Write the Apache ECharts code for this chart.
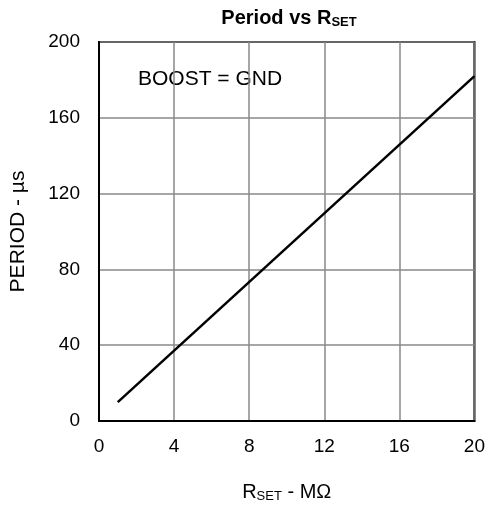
<!DOCTYPE html>
<html><head><meta charset="utf-8">
<script src="https://cdn.jsdelivr.net/npm/echarts@6/dist/echarts.min.js"></script>
<style>html,body{margin:0;padding:0;background:#fff}#c{width:488px;height:508px}</style>
</head><body><div id="c"></div>
<script>
const rsetValues = [1, 20];
const periodValues = [10, 182];
const xTicks = [0, 4, 8, 12, 16, 20];
const yTicks = [0, 40, 80, 120, 160, 200];
const annotation = 'BOOST = GND';

const FONT = '"Liberation Sans", Arial, sans-serif';
const chart = echarts.init(document.getElementById('c'));
chart.setOption({
  animation: false,
  backgroundColor: '#fff',
  title: {
    text: '{a|Period vs R}{s|SET}',
    left: 289, top: 8, textAlign: 'center', padding: 0,
    textStyle: { rich: {
      a: { fontFamily: FONT, fontWeight: 'bold', fontSize: 20, color: '#000' },
      s: { fontFamily: FONT, fontWeight: 'bold', fontSize: 13, color: '#000', verticalAlign: 'bottom', padding: [8, 0, 0, 0] }
    } }
  },
  grid: { left: 99, right: 13, top: 42, bottom: 87, show: true, borderColor: '#000', borderWidth: 2, backgroundColor: 'transparent' },
  xAxis: {
    type: 'value', min: xTicks[0], max: xTicks[xTicks.length - 1], interval: 4,
    name: '{a|R}{s|SET}{a| - MΩ}', nameLocation: 'middle', nameGap: 61,
    nameTextStyle: { rich: {
      a: { fontFamily: FONT, fontSize: 20, color: '#000' },
      s: { fontFamily: FONT, fontSize: 13, color: '#000', verticalAlign: 'bottom', padding: [8, 0, 0, 0] }
    } },
    axisLine: { show: true, lineStyle: { color: '#000', width: 2 } },
    axisTick: { show: false },
    axisLabel: { fontFamily: FONT, fontSize: 19, color: '#000', margin: 16 },
    splitLine: { show: true, lineStyle: { color: '#888', width: 1.5 } }
  },
  yAxis: {
    type: 'value', min: yTicks[0], max: yTicks[yTicks.length - 1], interval: 40,
    name: 'PERIOD - µs', nameLocation: 'middle', nameGap: 70, nameRotate: 90,
    nameTextStyle: { fontFamily: FONT, fontSize: 21, color: '#000' },
    axisLine: { show: true, lineStyle: { color: '#000', width: 2 } },
    axisTick: { show: false },
    axisLabel: { fontFamily: FONT, fontSize: 19, color: '#000', margin: 19 },
    splitLine: { show: true, lineStyle: { color: '#888', width: 1.5 } }
  },
  graphic: [{
    type: 'text', left: 138, top: 69,
    style: { text: annotation, font: '21px ' + FONT, fill: '#000' }
  }],
  series: [{
    type: 'line', data: rsetValues.map((x, i) => [x, periodValues[i]]),
    symbol: 'none', lineStyle: { color: '#000', width: 2.5 }
  }]
});
</script></body></html>
